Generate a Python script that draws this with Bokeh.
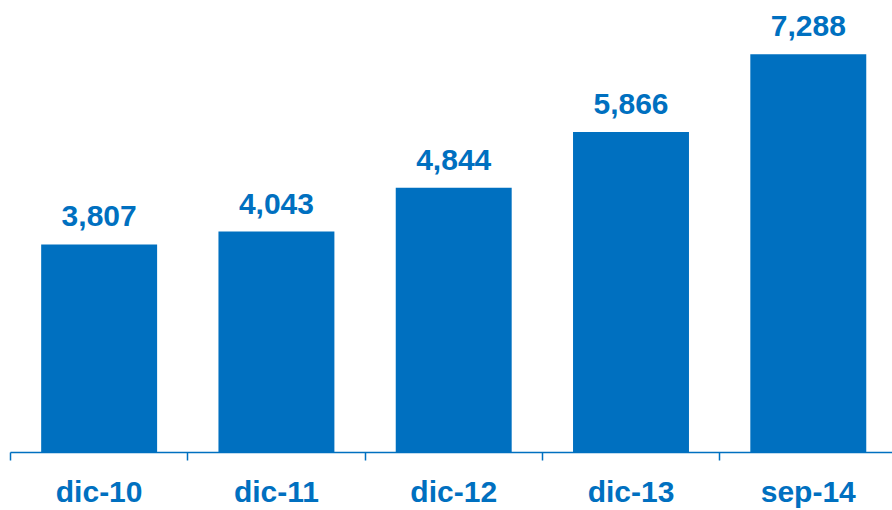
from bokeh.plotting import figure
from bokeh.models import ColumnDataSource, Range1d, FixedTicker
from bokeh.embed import file_html
from bokeh.resources import INLINE
from bokeh.core.properties import value
import numpy as np

categories = ["dic-10", "dic-11", "dic-12", "dic-13", "sep-14"]
values = [3807, 4043, 4844, 5866, 7288]

BLUE = "#0070C0"
FONT = "Liberation Sans"

xpos = np.arange(len(categories)) + 0.5
src = ColumnDataSource(dict(
    x=xpos,
    top=values,
    label=["{:,}".format(v) for v in values],
))

p = figure(
    width=892, height=510,
    x_range=Range1d(0, 4.975), y_range=Range1d(0, 8124),
    output_backend="svg", toolbar_location=None,
    y_axis_location=None,
    min_border_left=10, min_border_right=0, min_border_top=8, min_border_bottom=56,
)
p.outline_line_color = None
p.xgrid.visible = False
p.ygrid.visible = False
p.background_fill_color = "white"
p.border_fill_color = "white"

p.vbar(x="x", top="top", width=0.654, bottom=0, source=src,
       fill_color=BLUE, line_color=None)

p.text(x="x", y="top", text="label", source=src,
       text_align="center", text_baseline="alphabetic", y_offset=-28,
       text_font=value(FONT), text_font_style="bold",
       text_font_size="30px", text_color=BLUE)

ax = p.xaxis[0]
ax.ticker = FixedTicker(ticks=list(xpos), minor_ticks=list(range(len(categories) + 1)))
ax.major_label_overrides = {float(x): c for x, c in zip(xpos, categories)}
ax.major_tick_out = 0
ax.major_tick_in = 0
ax.minor_tick_out = 8
ax.minor_tick_in = 0
ax.minor_tick_line_color = BLUE
ax.minor_tick_line_width = 1.5
ax.axis_line_color = BLUE
ax.axis_line_width = 1.5
ax.major_label_text_font = FONT
ax.major_label_text_font_style = "bold"
ax.major_label_text_font_size = "30px"
ax.major_label_text_color = BLUE
ax.major_label_standoff = 14

open("out.html", "w").write(file_html(p, INLINE))
